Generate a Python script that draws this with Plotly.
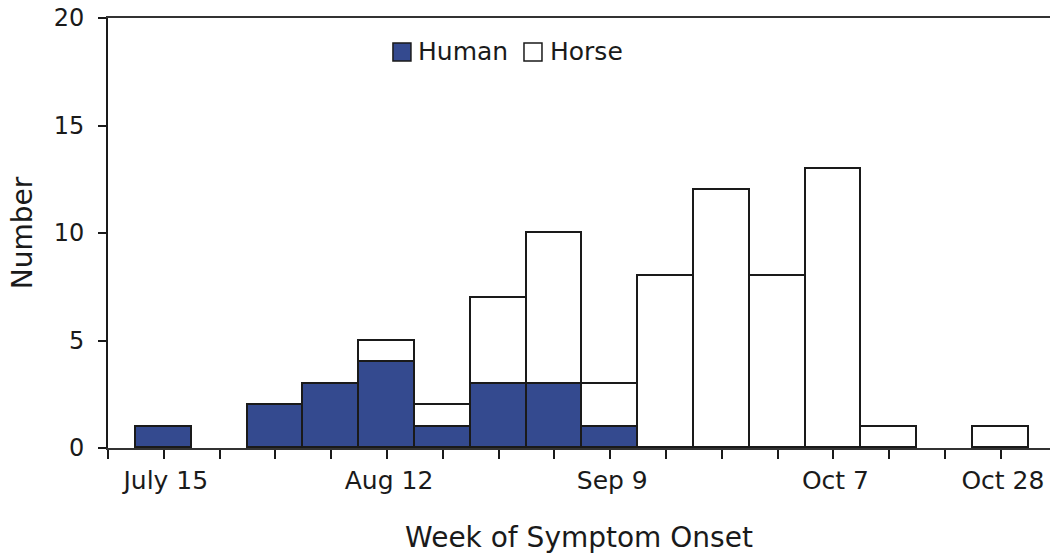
import plotly.graph_objects as go

weeks = ["July 15", "July 22", "July 29", "Aug 5", "Aug 12", "Aug 19", "Aug 26",
         "Sep 2", "Sep 9", "Sep 16", "Sep 23", "Sep 30", "Oct 7", "Oct 14",
         "Oct 21", "Oct 28"]
human = [1, 0, 2, 3, 4, 1, 3, 3, 1, 0, 0, 0, 0, 0, 0, 0]
horse = [0, 0, 0, 0, 1, 1, 4, 7, 2, 8, 12, 8, 13, 1, 0, 1]
labelled_weeks = ["July 15", "Aug 12", "Sep 9", "Oct 7", "Oct 28"]
y_ticks = [0, 5, 10, 15, 20]
series_names = ["Human", "Horse"]
x_title = "Week of Symptom Onset"
y_title = "Number"

BLUE = "#344A8F"
INK = "#1a1a1a"
FONT = "DejaVu Sans, Verdana, sans-serif"

x = list(range(len(weeks)))


def nonzero(vals):
    # empty weeks draw no bar at all
    return [v if v else None for v in vals]


fig = go.Figure()
fig.add_trace(go.Bar(x=x, y=nonzero(human), name=series_names[0], showlegend=False,
                     marker=dict(color=BLUE, line=dict(color=INK, width=1.6))))
fig.add_trace(go.Bar(x=x, y=nonzero(horse), name=series_names[1], showlegend=False,
                     marker=dict(color="white", line=dict(color=INK, width=1.6))))

tickvals = [-1] + x
ticktext = [""] + [w if w in labelled_weeks else "" for w in weeks]

# custom legend (larger square swatches, as in the reference)
legend_items = [(series_names[0], BLUE, 0.3025, 0.3301),
                (series_names[1], "white", 0.4416, 0.4703)]
shapes = []
annotations = []
for name, col, sx, tx in legend_items:
    shapes.append(dict(type="rect", xref="paper", yref="paper",
                       x0=sx, x1=sx + 0.0191, y0=0.900, y1=0.942,
                       fillcolor=col, line=dict(color=INK, width=1.5)))
    annotations.append(dict(text=name, xref="paper", yref="paper", x=tx - 0.003,
                            y=0.921, xanchor="left", yanchor="middle",
                            showarrow=False, font=dict(size=25, color=INK)))

# y-axis title, rotated, placed left of the tick labels
annotations.append(dict(text=y_title, xref="paper", yref="paper", x=-0.091, y=0.5,
                        xanchor="center", yanchor="middle", textangle=-90,
                        showarrow=False, font=dict(size=28, color=INK)))

fig.update_layout(
    width=1050, height=558,
    margin=dict(l=108, r=0, t=18, b=110),
    barmode="stack", bargap=0,
    plot_bgcolor="white", paper_bgcolor="white",
    font=dict(family=FONT, size=25, color=INK),
    showlegend=False,
    shapes=shapes, annotations=annotations,
    xaxis=dict(range=[-1, 15.88], tickvals=tickvals, ticktext=ticktext,
               ticks="outside", ticklen=9, tickwidth=2, tickcolor=INK,
               showline=True, linecolor="#333333", linewidth=2, mirror=True,
               showgrid=False, zeroline=False, automargin=False,
               ticklabelshift=2, ticklabeloverflow="allow", tickfont=dict(size=25),
               title=dict(text=x_title, font=dict(size=28), standoff=33)),
    yaxis=dict(range=[0, 20], tickvals=y_ticks,
               ticks="outside", ticklen=8, tickwidth=2, tickcolor=INK,
               showline=True, linecolor=INK, linewidth=2,
               showgrid=False, zeroline=False, automargin=False,
               ticklabelstandoff=9, ticklabeloverflow="allow", tickfont=dict(size=24)),
)

# remove the browser's default page margin so the figure sits at the window origin
fig.write_html("out.html", config={"displayModeBar": False},
               post_script="document.body.style.margin='0';")
